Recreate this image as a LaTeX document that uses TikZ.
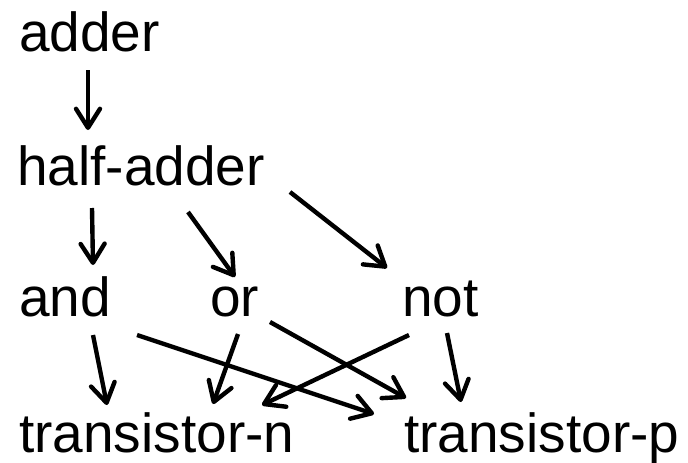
\documentclass[tikz,border=0pt]{standalone}
\usepackage{fontspec}
\setmainfont{Liberation Sans}
\usetikzlibrary{arrows.meta,calc}
\begin{document}
\begin{tikzpicture}[x=1pt,y=-1pt,
  lbl/.style={anchor=base west,inner sep=0pt,font=\fontsize{55}{62}\selectfont},
  conn/.style={line width=4.4pt,-{Straight Barb[length=19pt,width=24pt,round]}}]
\useasboundingbox[fill=white] (0,0) rectangle (688,463);
\node[lbl] (adder) at (19,51) {adder};
\node[lbl] (half) at (17,185) {half-adder};
\node[lbl] (and) at (19,316) {and};
\node[lbl] (or) at (210,316) {or};
\node[lbl] (not) at (402,316) {not};
\node[lbl] (tn) at (19,452) {transistor-n};
\node[lbl] (tp) at (404,452) {transistor-p};
\draw[conn] ($(adder.base west)+(69,19)$) -- ($(half.base west)+(71,-55)$);
\draw[conn] ($(half.base west)+(75,23)$) -- ($(and.base west)+(74,-51)$);
\draw[conn] ($(half.base west)+(171,27)$) -- ($(or.base west)+(25,-39)$);
\draw[conn] ($(half.base west)+(273,7)$) -- ($(not.base west)+(-15,-48)$);
\draw[conn] ($(and.base west)+(74,19)$) -- ($(tn.base west)+(88,-47)$);
\draw[conn] ($(and.base west)+(118,19)$) -- ($(tp.base west)+(-30,-38)$);
\draw[conn] ($(or.base west)+(60,6)$) -- ($(tp.base west)+(2,-54)$);
\draw[conn] ($(or.base west)+(28,18)$) -- ($(tn.base west)+(194,-48)$);
\draw[conn] ($(not.base west)+(7,19)$) -- ($(tn.base west)+(243,-47)$);
\draw[conn] ($(not.base west)+(45,17)$) -- ($(tp.base west)+(57,-50)$);
\end{tikzpicture}
\end{document}
